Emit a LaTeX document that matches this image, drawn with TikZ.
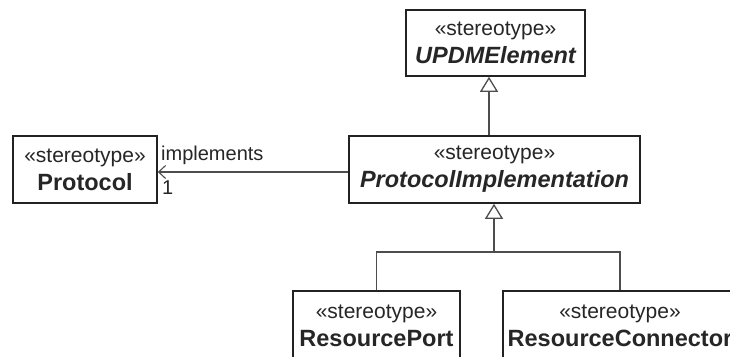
\documentclass[tikz,border=0pt]{standalone}
\usepackage{fontspec}
\setmainfont{Liberation Sans}
\usetikzlibrary{arrows.meta}
\definecolor{txt}{HTML}{262626}
\definecolor{bord}{HTML}{222222}
\definecolor{ln}{HTML}{4D4D4D}
\newcommand{\clsname}[1]{{\fontsize{23.5}{28}\selectfont\bfseries #1}}
\tikzset{
  cls/.style={draw=bord, line width=1.6pt, fill=white, text=txt, align=center,
    inner sep=0pt, font=\fontsize{21}{28}\selectfont},
  gen/.style={draw=ln, line width=1.3pt, -{Triangle[open, length=15pt, width=18pt, fill=white, line width=1.3pt]}},
  lnk/.style={draw=ln, line width=1.3pt},
  assoc/.style={draw=ln, line width=1.3pt, -{Straight Barb[length=7pt, width=13pt, line width=1.1pt]}},
  lbl/.style={text=txt, inner sep=0pt, anchor=west, font=\fontsize{20}{24}\selectfont}
}
\begin{document}
\begin{tikzpicture}[x=1pt, y=-1pt]
\useasboundingbox (0,0) rectangle (730,356);
\clip (0,0) rectangle (730,356);
\node[cls, minimum width=179pt, minimum height=66pt] (updm) at (495.5,43)
  {«stereotype»\\\clsname{\itshape UPDMElement}};
\node[cls, minimum width=144pt, minimum height=67pt] (proto) at (85,169.5)
  {«stereotype»\\\clsname{Protocol}};
\node[cls, minimum width=291pt, minimum height=67pt] (pi) at (494.5,169.5)
  {«stereotype»\\\clsname{\itshape ProtocolImplementation}};
\node[cls, minimum width=167pt, minimum height=70pt] (rp) at (376.5,326)
  {«stereotype»\\\clsname{ResourcePort}};
\node[cls, minimum width=234pt, minimum height=70pt] (rc) at (620,326)
  {«stereotype»\\\clsname{ResourceConnector}};
% generalization PI -> UPDM
\draw[gen] (pi.north -| 489,0) -- (updm.south -| 489,0);
% generalization tree
\coordinate (j) at (494,252);
\draw[lnk] (rp.north) -- (rp.north |- j) -- (rc.north |- j) -- (rc.north);
\draw[gen] (j) -- (pi.south -| j);
% association
\draw[assoc] ([yshift=-2.5pt]pi.west) -- ([yshift=-2.5pt]proto.east);
\node[lbl] (impl) at (161,155) {implements};
\node[lbl] (mult) at (162,188) {1};
\end{tikzpicture}
\end{document}
